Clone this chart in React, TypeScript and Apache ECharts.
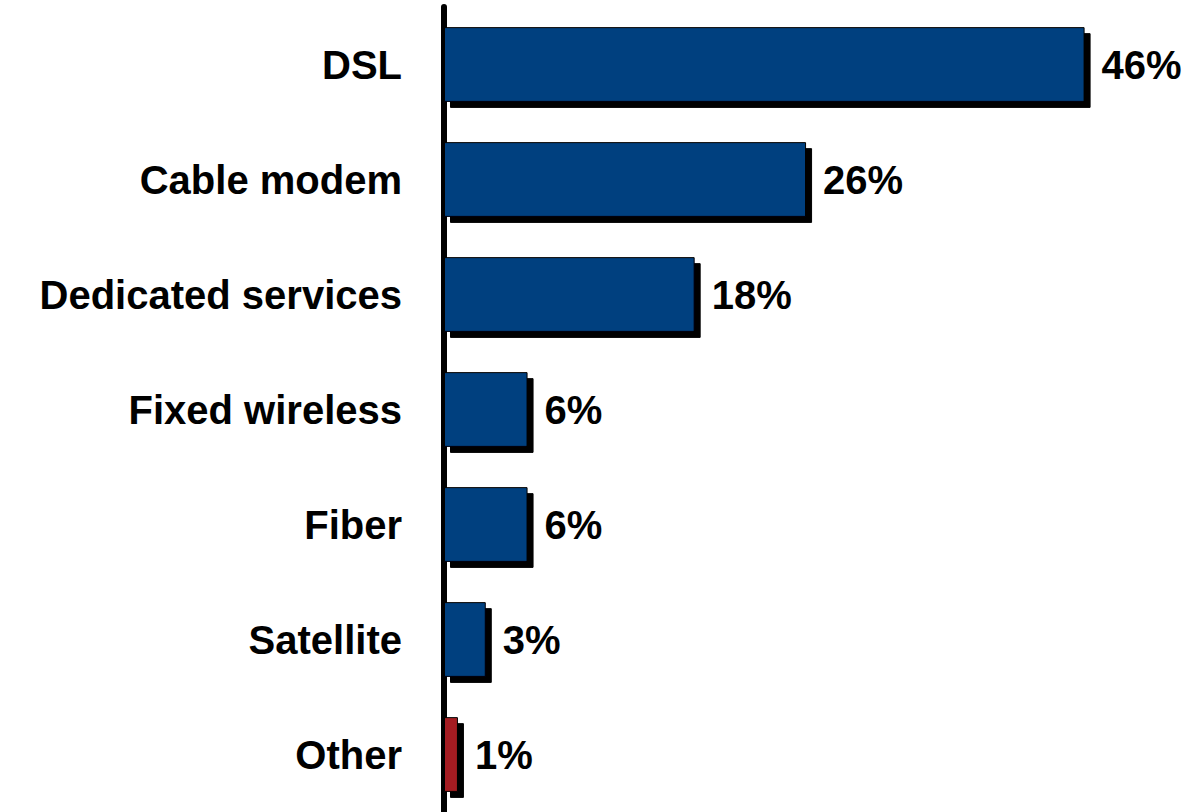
import React, { useEffect, useRef } from "react";
import * as echarts from "echarts";

const categories = ["DSL", "Cable modem", "Dedicated services", "Fixed wireless", "Fiber", "Satellite", "Other"];
const values = [46, 26, 18, 6, 6, 3, 1];
const barColors = ["#02417F", "#02417F", "#02417F", "#02417F", "#02417F", "#02417F", "#A51E22"];

export default function App() {
  const ref = useRef<HTMLDivElement>(null);
  useEffect(() => {
    if (!ref.current) return;
    const chart = echarts.init(ref.current, undefined, { renderer: "svg" });
    chart.setOption({
      animation: false,
      backgroundColor: "#ffffff",
      grid: { left: 444, right: 0, top: 7, bottom: -3, containLabel: false },
      xAxis: {
        type: "value",
        min: 0,
        max: 54,
        show: false,
      },
      yAxis: {
        type: "category",
        inverse: true,
        data: categories,
        axisLine: { show: true, lineStyle: { color: "#000", width: 6 } },
        axisTick: { show: false },
        axisLabel: {
          margin: 42,
          color: "#000",
          fontFamily: "Liberation Sans, Arial, sans-serif",
          fontWeight: "bold",
          fontSize: 40,
        },
      },
      series: [
        {
          type: "bar",
          data: values.map((v, i) => ({
            value: v,
            itemStyle: { color: barColors[i] },
          })),
          barCategoryGap: "35%",
          itemStyle: {
            borderColor: "#000",
            borderWidth: 1,
            shadowColor: "#000",
            shadowOffsetX: 6,
            shadowOffsetY: 6,
            shadowBlur: 0,
          },
          label: {
            show: true,
            position: "right",
            distance: 17,
            formatter: "{c}%",
            color: "#000",
            fontFamily: "Liberation Sans, Arial, sans-serif",
            fontWeight: "bold",
            fontSize: 40,
          },
        },
      ],
    });
    return () => chart.dispose();
  }, []);
  return (
    <div
      ref={ref}
      style={{ position: "fixed", left: 0, top: 0, width: 1196, height: 812, background: "#fff" }}
    />
  );
}
